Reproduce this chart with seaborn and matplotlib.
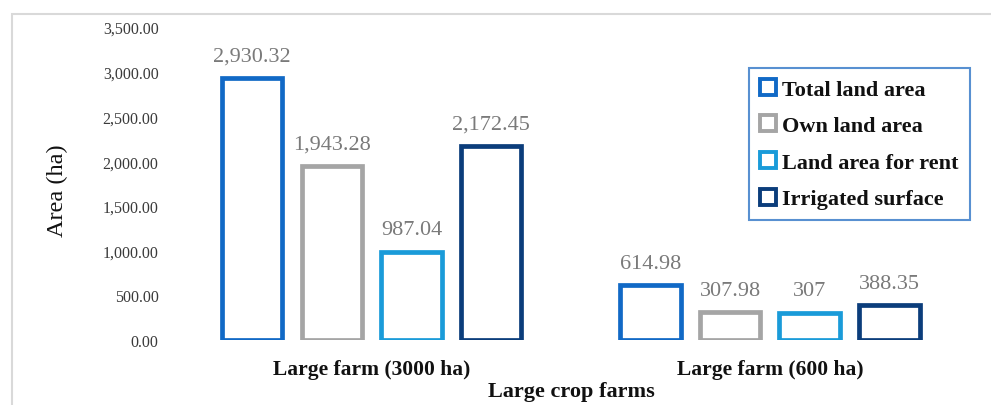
import matplotlib
matplotlib.use("Agg")
import matplotlib.pyplot as plt
from matplotlib.lines import Line2D
from matplotlib.patches import Rectangle
import seaborn as sns
import pandas as pd

# Farm categories and the four area measures (ha)
farms = ["Large farm (3000 ha)", "Large farm (600 ha)"]
measures = ["Total land area", "Own land area", "Land area for rent", "Irrigated surface"]
total_land = [2930.32, 614.98]
own_land = [1943.28, 307.98]
rent_land = [987.04, 307]
irrigated = [2172.45, 388.35]

colors = ["#1169c6", "#a5a5a5", "#1a9bd9", "#0b3d7b"]

series = [total_land, own_land, rent_land, irrigated]
df = pd.DataFrame(
    [(f, m, v) for m, vals in zip(measures, series) for f, v in zip(farms, vals)],
    columns=["farm", "measure", "area"],
)

sns.set_theme(style="white")
plt.rcParams["font.family"] = ["Liberation Serif", "DejaVu Serif"]

fig = plt.figure(figsize=(9.91, 4.06), dpi=100)
ax = fig.add_axes([172.5 / 991, 1 - 341 / 406, 796.5 / 991, 313 / 406])

sns.barplot(
    data=df, x="farm", y="area", hue="measure",
    order=farms, hue_order=measures, palette=colors,
    fill=False, linewidth=3.4, gap=0.24, width=0.8,
    legend=False, ax=ax, errorbar=None,
)

def fmt(v):
    return f"{v:,.0f}" if float(v).is_integer() else f"{v:,.2f}"

for cont, vals in zip(ax.containers, series):
    ax.bar_label(cont, labels=[fmt(v) for v in vals], padding=9,
                 fontsize=16, color="#7a7a7a")

ax.set_ylim(0, 3500)
ax.set_xlim(-0.5, 1.5)
ax.set_yticks(range(0, 3501, 500))
ax.set_yticklabels([f"{t:,.2f}" for t in range(0, 3501, 500)],
                   fontsize=11.5, color="#3a3a3a")
ax.tick_params(axis="y", length=0, pad=10)
ax.tick_params(axis="x", length=0, pad=14)
for lbl in ax.get_xticklabels():
    lbl.set_fontsize(15.5)
    lbl.set_fontweight("bold")
    lbl.set_color("#111111")
ax.set_xlabel("")
ax.set_ylabel("")
for s in ax.spines.values():
    s.set_visible(False)
ax.patch.set_alpha(0)

fig.text(571 / 991, 1 - 382 / 406, "Large crop farms", ha="center", va="top",
         fontsize=16, fontweight="bold", color="#111111")
fig.text(57 / 991, 1 - 191 / 406, "Area (ha)", rotation=90, ha="center",
         va="center", fontsize=17.5, color="#111111")

# light frame around the chart area
fig.patches.append(Rectangle((12 / 991, -0.2), 1.2, 0.2 + 1 - 15 / 406,
                             transform=fig.transFigure, fill=False,
                             edgecolor="#d9d9d9", linewidth=1.5))

handles = [Line2D([], [], linestyle="none", marker="s", markersize=11.5,
                  markerfacecolor="white", markeredgecolor=c,
                  markeredgewidth=2.8) for c in colors]
leg = fig.legend(handles, measures, loc="upper left",
                 bbox_to_anchor=(749 / 991, 1 - 69 / 406),
                 bbox_transform=fig.transFigure, borderaxespad=0,
                 frameon=True, fancybox=False, handlelength=0.75,
                 handletextpad=0.25, labelspacing=0.72, borderpad=0.5,
                 prop={"size": 16, "weight": "bold"})
leg.get_frame().set_edgecolor("#2e75c6")
leg.get_frame().set_linewidth(1.5)
for t in leg.get_texts():
    t.set_color("#111111")

fig.savefig("out.png", dpi=100)
